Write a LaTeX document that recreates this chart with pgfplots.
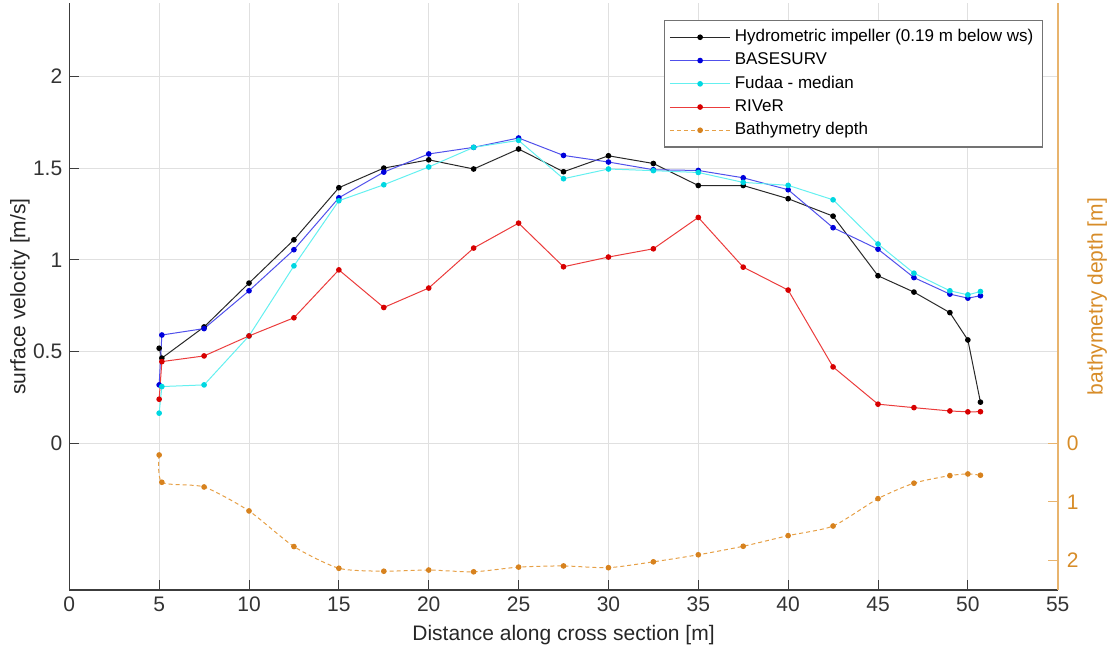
\documentclass[border=0pt]{standalone}
\usepackage{fontspec}
\setmainfont{Liberation Sans}
\usepackage{pgfplots}
\pgfplotsset{compat=1.18}
\definecolor{axgray}{RGB}{60,60,60}
\definecolor{cBlackL}{RGB}{40,40,40}
\definecolor{cBlueL}{RGB}{80,80,235}
\definecolor{cBlueM}{RGB}{0,0,220}
\definecolor{cCyanL}{RGB}{100,240,240}
\definecolor{cCyanM}{RGB}{0,215,225}
\definecolor{cRedL}{RGB}{235,60,60}
\definecolor{cRedM}{RGB}{215,0,0}
\definecolor{cOrL}{RGB}{230,160,70}
\definecolor{cOrM}{RGB}{215,130,30}
\definecolor{cOrAx}{RGB}{232,180,110}
\definecolor{cOrTxt}{RGB}{215,140,40}
\pgfplotsset{
  myax/.style={
    scale only axis, width=494.2pt, height=293.5pt,
    xmin=0, xmax=55,
    /pgf/number format/assume math mode=true,
    tick align=inside, major tick length=5pt,
    font=\fontsize{10.5pt}{12.6pt}\selectfont,
    every axis y label/.style={at={(axis description cs:-0.05,0.5)}, rotate=90, anchor=center},
    every axis x label/.style={at={(axis description cs:0.5,-0.077)}, anchor=center},
  },
  legend image code/.code={\draw[mark repeat=2,mark phase=2,#1] plot coordinates {(0cm,0cm) (0.53cm,0cm) (1.06cm,0cm)};},
}
\begin{document}
\begin{tikzpicture}
\begin{axis}[myax, name=main,
  ymin=-0.8, ymax=2.4,
  axis x line*=bottom, axis y line*=left,
  xtick={0,5,...,55}, ytick={0,0.5,1,1.5,2},
  grid=major, grid style={black!12, line width=0.5pt},
  axis line style={axgray, line width=0.6pt},
  tick style={axgray, line width=0.5pt},
  ticklabel style={text=black!80},
  xlabel={Distance along cross section [m]},
  ylabel={surface velocity [m/s]},
  label style={text=black!85},
  legend cell align=left,
  legend style={at={(1,1)}, anchor=north east, xshift=-7.4pt, yshift=-8.5pt,
    draw=black!55, fill=white, line width=0.6pt, inner sep=2.5pt,
    font=\fontsize{8.5pt}{10.2pt}\selectfont, row sep=0.1pt},
  every axis plot/.append style={line width=0.5pt, mark=*, mark size=1.15pt},
]
\addplot[cBlackL, mark options={fill=black, draw=black}] coordinates {
(5.0,0.518) (5.15,0.464) (7.5,0.634) (10,0.873) (12.5,1.109) (15,1.393) (17.5,1.50) (20,1.545) (22.5,1.495) (25,1.604) (27.5,1.48) (30,1.567) (32.5,1.525) (35,1.405) (37.5,1.405) (40,1.333) (42.5,1.238) (45,0.913) (47,0.824) (49,0.712) (50,0.563) (50.7,0.224)};
\addlegendentry{Hydrometric impeller (0.19 m below ws)}
\addplot[cBlueL, mark options={fill=cBlueM, draw=cBlueM}] coordinates {
(5.0,0.318) (5.15,0.59) (7.5,0.625) (10,0.831) (12.5,1.055) (15,1.338) (17.5,1.478) (20,1.577) (22.5,1.613) (25,1.664) (27.5,1.569) (30,1.533) (32.5,1.491) (35,1.487) (37.5,1.447) (40,1.382) (42.5,1.175) (45,1.058) (47,0.903) (49,0.813) (50,0.791) (50.7,0.804)};
\addlegendentry{BASESURV}
\addplot[cCyanL, mark options={fill=cCyanM, draw=cCyanM}] coordinates {
(5.0,0.164) (5.15,0.309) (7.5,0.318) (10,0.585) (12.5,0.967) (15,1.322) (17.5,1.409) (20,1.506) (22.5,1.613) (25,1.651) (27.5,1.442) (30,1.495) (32.5,1.486) (35,1.476) (37.5,1.422) (40,1.406) (42.5,1.327) (45,1.086) (47,0.927) (49,0.831) (50,0.809) (50.7,0.827)};
\addlegendentry{Fudaa - median}
\addplot[cRedL, mark options={fill=cRedM, draw=cRedM}] coordinates {
(5.0,0.24) (5.15,0.445) (7.5,0.476) (10,0.585) (12.5,0.684) (15,0.945) (17.5,0.74) (20,0.846) (22.5,1.064) (25,1.20) (27.5,0.962) (30,1.015) (32.5,1.06) (35,1.231) (37.5,0.96) (40,0.835) (42.5,0.416) (45,0.213) (47,0.194) (49,0.176) (50,0.171) (50.7,0.172)};
\addlegendentry{RIVeR}
\addlegendimage{cOrL, line width=0.5pt, dash pattern=on 2pt off 1.5pt, mark=*, mark size=1.15pt, mark options={solid, fill=cOrM, draw=cOrM}}
\addlegendentry{Bathymetry depth}
\end{axis}
\begin{axis}[myax,
  ymin=-7.5, ymax=2.5, y dir=reverse,
  axis y line*=right, axis x line=none,
  yticklabel pos=right,
  ytick={0,1,2},
  axis line style={cOrAx, line width=0.8pt},
  tick style={cOrAx, line width=0.5pt},
  yticklabel style={text=cOrTxt, anchor=west, xshift=1pt},
  ylabel={bathymetry depth [m]},
  every axis y label/.style={at={(axis description cs:1.04,0.5)}, rotate=90, anchor=center},
  label style={text=cOrTxt},
]
\addplot[cOrL, line width=0.5pt, dash pattern=on 2pt off 1.5pt, smooth, tension=0.4, mark=*, mark size=1.15pt, mark options={solid, fill=cOrM, draw=cOrM}] coordinates {
(5.0,0.2) (5.15,0.665) (7.5,0.745) (10,1.153) (12.5,1.76) (15,2.13) (17.5,2.18) (20,2.16) (22.5,2.19) (25,2.11) (27.5,2.09) (30,2.12) (32.5,2.02) (35,1.90) (37.5,1.755) (40,1.574) (42.5,1.41) (45,0.944) (47,0.68) (49,0.551) (50,0.523) (50.7,0.545)};
\end{axis}
\pgfresetboundingbox
\useasboundingbox ([xshift=-34.65pt,yshift=-32.5pt]main.south west) rectangle ([xshift=27.15pt,yshift=1.5pt]main.north east);
\end{tikzpicture}
\end{document}
